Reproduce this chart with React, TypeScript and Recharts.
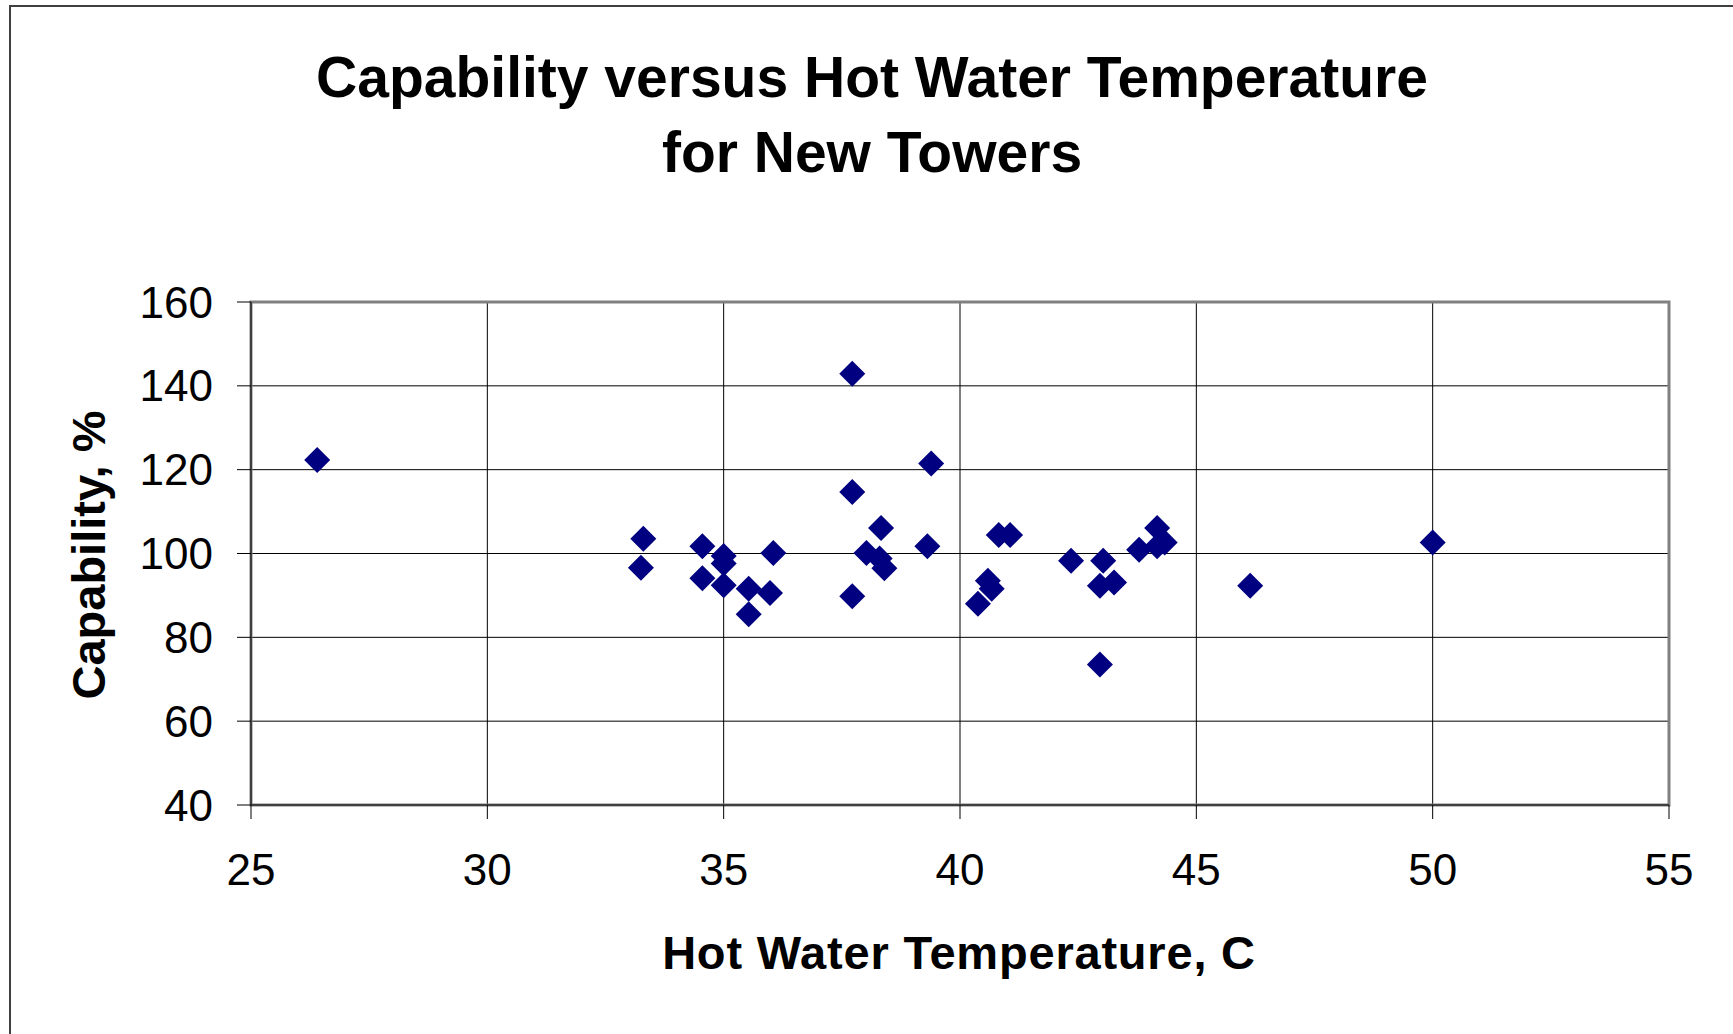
import { ScatterChart, Scatter, XAxis, YAxis, CartesianGrid, ReferenceArea } from 'recharts';

// hot water temperature (C) and capability (%) for each tower
const temperature = [
  26.4, 33.3, 33.25, 34.55, 34.55, 35.0, 35.0, 35.0, 35.53, 35.53,
  35.98, 36.05, 37.72, 37.72, 37.72, 38.02, 38.33, 38.3, 38.4, 39.39,
  39.31, 40.59, 40.67, 40.38, 40.82, 41.06, 42.35, 43.03, 42.96, 43.26,
  42.96, 43.79, 44.17, 44.17, 44.33, 46.14, 50.0,
];
const capability = [
  122.3, 103.5, 96.6, 101.7, 94.1, 99.4, 97.6, 92.4, 91.6, 85.5,
  90.6, 100.1, 142.9, 114.7, 89.8, 100.1, 106.1, 98.8, 96.5, 121.5,
  101.7, 93.5, 91.6, 88.0, 104.4, 104.4, 98.3, 98.3, 92.3, 93.1,
  73.5, 100.9, 106.1, 101.7, 102.6, 92.3, 102.6,
];

const xTicks = [25, 30, 35, 40, 45, 50, 55];
const yTicks = [40, 60, 80, 100, 120, 140, 160];

const data = temperature.map((t, i) => ({ x: t, y: capability[i] }));

const FONT = '"Liberation Sans", Arial, sans-serif';

const Diamond = (props: any) => {
  const { cx, cy } = props;
  if (cx == null || cy == null) return null;
  const r = 13;
  return (
    <polygon
      points={`${cx},${cy - r} ${cx + r},${cy} ${cx},${cy + r} ${cx - r},${cy}`}
      fill="#000080"
    />
  );
};

export default function App() {
  return (
    <div style={{ position: 'absolute', left: 0, top: 0, width: 1733, height: 1034, overflow: 'hidden', background: '#fff' }}>
      {/* chart area frame (only left and top edges show) */}
      <div
        style={{
          position: 'absolute', left: 9, top: 5, width: 1740, height: 1040,
          borderLeft: '2px solid #404040', borderTop: '2px solid #404040',
        }}
      />
      <div style={{ position: 'absolute', left: 0, top: 0 }}>
        <ScatterChart width={1733} height={1034} margin={{ top: 302, right: 64, bottom: 0, left: 0 }}>
          <CartesianGrid stroke="#000" strokeWidth={1} />
          <ReferenceArea x1={25} x2={55} y1={40} y2={160} fill="none" stroke="#808080" strokeWidth={3} ifOverflow="visible" />
          <XAxis
            type="number"
            dataKey="x"
            domain={[25, 55]}
            ticks={xTicks}
            interval={0}
            height={229}
            tickSize={14}
            tickMargin={35}
            axisLine={{ stroke: '#000', strokeWidth: 1 }}
            tickLine={{ stroke: '#000', strokeWidth: 1 }}
            tick={{ fill: '#000', fontSize: 44, fontFamily: FONT }}
          />
          <YAxis
            type="number"
            dataKey="y"
            domain={[40, 160]}
            ticks={yTicks}
            interval={0}
            width={251}
            tickSize={14}
            tickMargin={24}
            axisLine={{ stroke: '#000', strokeWidth: 1 }}
            tickLine={{ stroke: '#000', strokeWidth: 1 }}
            tick={{ fill: '#000', fontSize: 44, fontFamily: FONT }}
          />
          <Scatter data={data} shape={<Diamond />} isAnimationActive={false} />
        </ScatterChart>
      </div>
      <svg width={1733} height={1034} style={{ position: 'absolute', left: 0, top: 0, pointerEvents: 'none' }}>
        <g fontFamily={FONT} fontWeight="bold" fill="#000">
          <text x={872} y={97} textAnchor="middle" fontSize={57}>
            Capability versus Hot Water Temperature
          </text>
          <text x={872} y={172} textAnchor="middle" fontSize={57}>
            for New Towers
          </text>
          <text x={959} y={969} textAnchor="middle" fontSize={47} letterSpacing={0.8}>
            Hot Water Temperature, C
          </text>
          <text
            x={0}
            y={0}
            textAnchor="middle"
            fontSize={47}
            transform="translate(105 555) rotate(-90)"
          >
            Capability, %
          </text>
        </g>
      </svg>
    </div>
  );
}
